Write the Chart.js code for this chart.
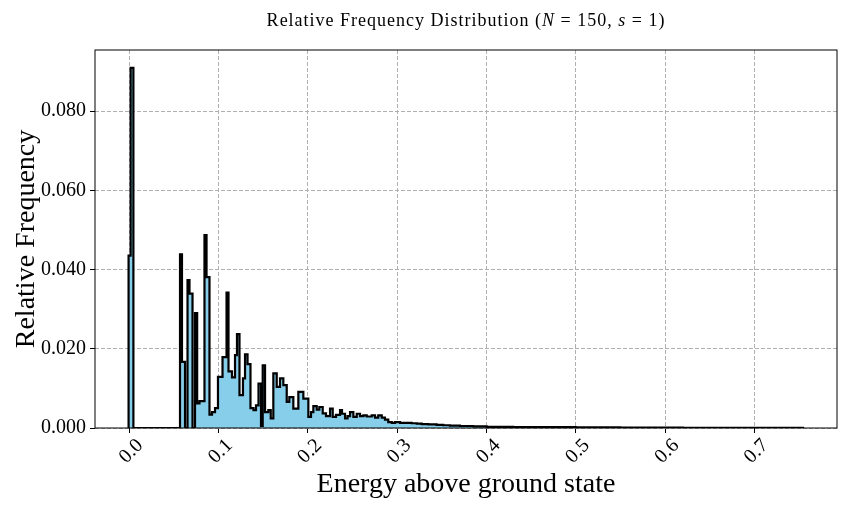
<!DOCTYPE html>
<html>
<head>
<meta charset="utf-8">
<script src="https://cdn.jsdelivr.net/npm/chart.js@4.4.1/dist/chart.umd.min.js"></script>
<style>
  html, body { margin: 0; padding: 0; background: #fff; }
  #wrap { width: 850px; height: 510px; }
</style>
</head>
<body>
<div id="wrap"><canvas id="histChart" width="850" height="510"></canvas></div>
<script>
// 빈 경계 (에너지 값, 그림에서 읽음)
const binEdges = [
  -0.0007, 0.0016, 0.0047, 0.0569, 0.0591, 0.0625, 0.0653, 0.0675, 0.0709, 0.0737,
  0.0761, 0.0787, 0.0843, 0.0866, 0.0899, 0.0927, 0.0961, 0.0994, 0.1045, 0.1090,
  0.1112, 0.1151, 0.1185, 0.1207, 0.1235, 0.1274, 0.1297, 0.1325, 0.1358, 0.1392,
  0.1420, 0.1448, 0.1476, 0.1495, 0.1521, 0.1558, 0.1585, 0.1614, 0.1652, 0.1689,
  0.1726, 0.1764, 0.1793, 0.1838, 0.1894, 0.1950, 0.2006, 0.2036, 0.2062, 0.2100,
  0.2129, 0.2167, 0.2204, 0.2249, 0.2279, 0.2316, 0.2361, 0.2383, 0.2417, 0.2445,
  0.2473, 0.2510, 0.2548, 0.2585, 0.2622, 0.2660, 0.2716, 0.2753, 0.2789, 0.2828,
  0.2864, 0.2901, 0.2940, 0.2977, 0.3033, 0.3107, 0.3163, 0.3220, 0.3276, 0.3349,
  0.3443, 0.3517, 0.3592, 0.3704, 0.3853, 0.4003, 0.4300, 0.4600, 0.5000, 0.5500,
  0.6200, 0.7545
];

// 각 빈의 상대 빈도
const relFreq = [
  0.0435, 0.0909, 0, 0.0438, 0.0167, 0, 0.0373, 0.0339, 0, 0.0290,
  0.0062, 0.0068, 0.0487, 0.0381, 0.0034, 0.0040, 0.0050, 0.0129, 0.0179, 0.0342,
  0.0143, 0.0128, 0.0184, 0.0237, 0.0083, 0.0125, 0.0186, 0.0161, 0.0050, 0.0045,
  0.0057, 0.0112, 0.0005, 0.0158, 0.0040, 0.0045, 0.0024, 0.0138, 0.0104, 0.0125,
  0.0108, 0.0066, 0.0078, 0.0049, 0.0091, 0.0074, 0.0028, 0.0040, 0.0055, 0.0046,
  0.0053, 0.0037, 0.0030, 0.0049, 0.0028, 0.0033, 0.0045, 0.0036, 0.0024, 0.0030,
  0.0040, 0.0028, 0.0036, 0.0030, 0.0032, 0.0029, 0.0032, 0.0026, 0.0032, 0.0026,
  0.0021, 0.0015, 0.0013, 0.0015, 0.0013, 0.0013, 0.0012, 0.0011, 0.0010, 0.0009,
  0.0008, 0.0007, 0.0006, 0.0005, 0.0004, 0.0003, 0.00025, 0.0002, 0.00015, 0.0001,
  0.00006
];

const xTicks = [0.0, 0.1, 0.2, 0.3, 0.4, 0.5, 0.6, 0.7];
const yTicks = [0.000, 0.020, 0.040, 0.060, 0.080];
const xLimits = [-0.0383, 0.7926];
const yLimits = [0, 0.0954];

const serif = "'Liberation Serif', 'DejaVu Serif', serif";

// 계단형 히스토그램 외곽선용 점
function buildStepPoints() {
    const pts = [{ x: binEdges[0], y: 0 }];
    binEdges.forEach((e, i) => {
        pts.push({ x: e, y: i < relFreq.length ? relFreq[i] : 0 });
    });
    return pts;
}

// 제목 (N, s 이탤릭)
const titlePlugin = {
    id: 'mixedTitle',
    afterDraw(chart) {
        const ctx = chart.ctx;
        const parts = [
            ['Relative Frequency Distribution (', false],
            ['N', true],
            [' = 150, ', false],
            ['s', true],
            [' = 1)', false]
        ];
        const size = 18;
        ctx.save();
        ctx.letterSpacing = '1px';
        let total = 0;
        parts.forEach(p => {
            ctx.font = (p[1] ? 'italic ' : '') + size + 'px ' + serif;
            total += ctx.measureText(p[0]).width;
        });
        const area = chart.chartArea;
        let x = (area.left + area.right) / 2 - total / 2;
        ctx.fillStyle = '#000';
        ctx.textBaseline = 'middle';
        ctx.textAlign = 'left';
        parts.forEach(p => {
            ctx.font = (p[1] ? 'italic ' : '') + size + 'px ' + serif;
            ctx.fillText(p[0], x, 21);
            x += ctx.measureText(p[0]).width;
        });
        ctx.restore();
    }
};

// 플롯 테두리
const framePlugin = {
    id: 'frame',
    afterDraw(chart) {
        const { ctx, chartArea: a } = chart;
        ctx.save();
        ctx.strokeStyle = '#000';
        ctx.lineWidth = 1;
        ctx.strokeRect(a.left, a.top, a.right - a.left, a.bottom - a.top);
        ctx.restore();
    }
};

const ctx = document.getElementById('histChart');
new Chart(ctx, {
    type: 'line',
    data: {
        datasets: [{
            data: buildStepPoints(),
            stepped: 'before',
            borderColor: '#000',
            borderWidth: 2.2,
            borderJoinStyle: 'miter',
            backgroundColor: '#87ceeb',
            fill: 'origin',
            pointRadius: 0,
            tension: 0
        }]
    },
    options: {
        responsive: false,
        animation: false,
        layout: { padding: { top: 50, right: 13, left: 0, bottom: 0 } },
        plugins: {
            legend: { display: false },
            tooltip: { enabled: false }
        },
        scales: {
            x: {
                type: 'linear',
                min: xLimits[0],
                max: xLimits[1],
                afterBuildTicks: scale => { scale.ticks = xTicks.map(v => ({ value: v })); },
                afterFit: scale => { scale.height = 82; },
                ticks: {
                    autoSkip: false,
                    minRotation: 45,
                    maxRotation: 45,
                    labelOffset: 11,
                    padding: 1,
                    color: '#000',
                    font: { family: serif, size: 20 },
                    callback: v => v.toFixed(1)
                },
                grid: { color: '#b0b0b0', tickColor: '#000', tickLength: 5, lineWidth: 1 },
                border: { display: false, dash: [4, 2] },
                title: {
                    display: true,
                    text: 'Energy above ground state',
                    color: '#000',
                    font: { family: serif, size: 28 },
                    padding: { top: 0, bottom: 9 }
                }
            },
            y: {
                min: yLimits[0],
                max: yLimits[1],
                afterBuildTicks: scale => { scale.ticks = yTicks.map(v => ({ value: v })); },
                afterFit: scale => { scale.width = 95; },
                ticks: {
                    padding: 4,
                    color: '#000',
                    font: { family: serif, size: 20 },
                    callback: v => v.toFixed(3)
                },
                grid: { color: '#b0b0b0', tickColor: '#000', tickLength: 5, lineWidth: 1 },
                border: { display: false, dash: [4, 2] },
                title: {
                    display: true,
                    text: 'Relative Frequency',
                    color: '#000',
                    font: { family: serif, size: 28 },
                    padding: { top: 10, bottom: 0 }
                }
            }
        }
    },
    plugins: [titlePlugin, framePlugin]
});
</script>
</body>
</html>
